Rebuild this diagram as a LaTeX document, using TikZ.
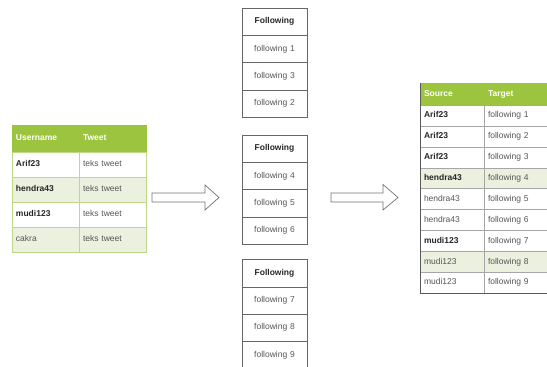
\documentclass[tikz,border=0pt]{standalone}
\usepackage{fontspec}
\setmainfont{Liberation Sans}
\definecolor{headgreen}{RGB}{156,196,63}
\definecolor{rowgreen}{RGB}{235,241,222}
\definecolor{linegreen}{RGB}{190,216,135}
\definecolor{txtgray}{RGB}{85,85,85}

\begin{document}
\begin{tikzpicture}[x=1pt,y=-1pt,
cell/.style={draw=linegreen, anchor=north west, inner xsep=4pt, inner ysep=0pt, outer sep=0pt, align=left, text height=6.3pt, text depth=1.8pt, text=txtgray, font=\fontsize{8.5}{10}\selectfont},
bcell/.style={cell, text=black!85, font=\fontsize{8.5}{10}\selectfont\bfseries},
headcell/.style={cell, draw=headgreen, fill=headgreen, text=white, font=\fontsize{8.5}{10}\selectfont\bfseries},
lcol/.style={text width=59pt, minimum height=25pt},
mcell/.style={cell, draw=black!60, align=center, text width=57pt, minimum height=27.25pt},
mhead/.style={mcell, text=black!85, font=\fontsize{8.5}{10}\selectfont\bfseries},
scol/.style={text width=56pt, minimum height=20.9pt, draw=black!35},
tcol/.style={text width=68pt, minimum height=20.9pt, draw=black!35},
blockarrow/.style={draw=black!55, fill=white, line width=0.7pt, line join=miter},
]
\useasboundingbox (0,0) rectangle (547,367);

% tweets table
\node[headcell,lcol,minimum height=27pt] (uh) at (12,125)  {Username};
\node[headcell,lcol,minimum height=27pt] (th) at (79,125)  {Tweet};
\node[bcell,lcol]                        (u1) at (12,152)  {Arif23};
\node[cell,lcol]                         (t1) at (79,152)  {teks tweet};
\node[bcell,lcol,fill=rowgreen]          (u2) at (12,177)  {hendra43};
\node[cell,lcol,fill=rowgreen]           (t2) at (79,177)  {teks tweet};
\node[bcell,lcol]                        (u3) at (12,202)  {mudi123};
\node[cell,lcol]                         (t3) at (79,202)  {teks tweet};
\node[cell,lcol,fill=rowgreen]           (u4) at (12,227)  {cakra};
\node[cell,lcol,fill=rowgreen]           (t4) at (79,227)  {teks tweet};

% following lists
\node[mhead] (fa)  at (242,8)      {Following};
\node[mcell] (fa1) at (242,35.25)  {following 1};
\node[mcell] (fa2) at (242,62.5)   {following 3};
\node[mcell] (fa3) at (242,89.75)  {following 2};

\node[mhead] (fb)  at (242,135)    {Following};
\node[mcell] (fb1) at (242,162.25) {following 4};
\node[mcell] (fb2) at (242,189.5)  {following 5};
\node[mcell] (fb3) at (242,216.75) {following 6};

\node[mhead] (fc)  at (242,259.5)  {Following};
\node[mcell] (fc1) at (242,286.75) {following 7};
\node[mcell] (fc2) at (242,314)    {following 8};
\node[mcell] (fc3) at (242,341.25) {following 9};

% edge table
\node[headcell,scol,draw=headgreen,minimum height=22pt] (sh) at (420,83) {Source};
\node[headcell,tcol,draw=headgreen,minimum height=22pt] (gh) at (484,83) {Target};
\node[bcell,scol]                 (s1) at (420,105)   {Arif23};
\node[cell,tcol]                  (g1) at (484,105)   {following 1};
\node[bcell,scol]                 (s2) at (420,125.9) {Arif23};
\node[cell,tcol]                  (g2) at (484,125.9) {following 2};
\node[bcell,scol]                 (s3) at (420,146.8) {Arif23};
\node[cell,tcol]                  (g3) at (484,146.8) {following 3};
\node[bcell,scol,fill=rowgreen]   (s4) at (420,167.7) {hendra43};
\node[cell,tcol,fill=rowgreen]    (g4) at (484,167.7) {following 4};
\node[cell,scol]                  (s5) at (420,188.6) {hendra43};
\node[cell,tcol]                  (g5) at (484,188.6) {following 5};
\node[cell,scol]                  (s6) at (420,209.5) {hendra43};
\node[cell,tcol]                  (g6) at (484,209.5) {following 6};
\node[bcell,scol]                 (s7) at (420,230.4) {mudi123};
\node[cell,tcol]                  (g7) at (484,230.4) {following 7};
\node[cell,scol,fill=rowgreen]    (s8) at (420,251.3) {mudi123};
\node[cell,tcol,fill=rowgreen]    (g8) at (484,251.3) {following 8};
\node[cell,scol]                  (s9) at (420,272.2) {mudi123};
\node[cell,tcol]                  (g9) at (484,272.2) {following 9};
\draw[black!65] (sh.north west) -- (s9.south west) -- (g9.south east);

% block arrows
\draw[blockarrow] (152,193) -- (205,193) -- (205,185) -- (219,197.5) -- (205,210) -- (205,202) -- (152,202) -- cycle;
\draw[blockarrow] (331,193) -- (383,193) -- (383,184.5) -- (398,197.5) -- (383,210) -- (383,202) -- (331,202) -- cycle;

\end{tikzpicture}
\end{document}
